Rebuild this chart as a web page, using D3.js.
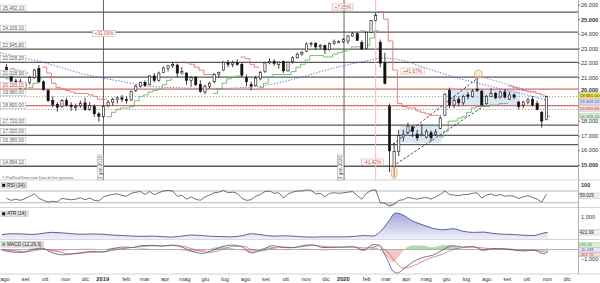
<!DOCTYPE html>
<html><head><meta charset="utf-8">
<script src="https://cdn.jsdelivr.net/npm/d3@7"></script>
<style>
html,body{margin:0;padding:0;background:#fff;overflow:hidden}
svg{display:block;font-family:"Liberation Sans",Arial,sans-serif}
</style></head><body>
<svg id="c" width="600" height="283"></svg>
<script>
// ---------------- DATA ----------------
const firstWeek = "2018-08-06", lastWeekEnd = "2020-11-03";   // weekly bars (Mondays)
const open  = [21700,21100,20750,20700,20300,20650,21000,21600,20700,20100,19400,19150,19000,19400,19100,19000,19050,19250,18800,19000,18500,18300,
 19050,19300,19500,19600,19500,19450,20100,20400,20650,20500,21100,20800,21350,21600,21800,21850,21300,21300,20800,21000,20500,20000,20400,20700,21200,21500,22000,21900,22000,21900,21000,20500,20450,20900,21400,22000,22100,21900,22100,21450,22100,22350,22600,22800,23300,23350,23100,23200,22900,23350,23450,23450,
 23500,23850,24000,23400,23000,24100,24900,23400,22000,19000,14900,15900,16900,17200,17600,17100,17000,16900,17200,17100,17500,18400,20100,19100,19500,19250,19800,19700,20200,20050,19200,19700,19900,19650,20000,19500,19800,19300,19100,19300,19500,19200,18600,18100];
const high  = [21900,21200,20900,20900,20700,21100,21600,21850,20800,20200,19700,19300,19500,19600,19300,19200,19400,19600,19300,19150,18600,19100,
 19450,19600,19700,19800,19700,20100,20500,20700,20800,21150,21300,21400,21750,21850,22050,21950,21700,21350,21100,21100,20800,20500,20700,21300,21400,22100,22200,22150,22250,22000,21200,20700,21100,21450,22050,22300,22250,22100,22150,22100,22450,22700,22800,23400,23450,23400,23300,23250,23400,23600,23550,23700,
 23900,24100,24100,23550,24150,24950,25480,23600,22700,19200,16500,17400,17400,17900,17700,17400,17800,17450,17350,17450,18400,19900,20300,19700,19700,19800,20000,20200,21050,20150,19800,20250,20000,20100,20200,20000,19900,19400,19400,19600,19700,19400,18700,19750];
const low   = [21200,20300,20400,20200,20100,20500,20900,20600,20100,19300,18950,18650,18900,19000,18700,18700,18900,18700,18700,18300,17950,18200,
 18950,19050,19200,19300,19200,19400,20000,20300,20350,20450,20650,20700,21300,21400,21650,21000,21200,20500,20350,20400,19950,19850,20250,20600,21000,21450,21700,21700,21800,21000,20400,20100,20400,20800,21300,21900,21800,21600,21300,21400,21950,22300,22500,22750,23100,22900,22950,22600,22850,23250,23350,23350,
 23300,23800,23500,22900,22950,24050,24850,21700,20500,14500,14150,15600,16600,17100,16900,16650,16950,16800,16600,17000,17450,18350,18900,18900,19000,19100,19500,19600,20000,19100,19150,19650,19500,19550,19550,19450,19500,18800,18900,19150,19000,18750,17550,18050];
const close = [21300,20750,20600,20270,20600,21000,21500,20700,20150,19400,19150,18950,19400,19100,19000,19000,19200,18800,19050,18500,18324,19000,
 19300,19500,19600,19500,19400,20050,20400,20650,20450,21100,20800,21300,21650,21800,21900,21300,21400,20800,21000,20500,20050,20400,20600,21200,21350,22050,21900,22000,21900,21150,20700,20400,20950,21350,22000,22100,21950,22050,21450,22050,22350,22600,22700,23300,23350,23100,23200,22900,23350,23450,23450,23600,
 23850,24000,23550,22950,24100,24900,25250,21985,20600,15950,15900,17000,17050,17650,17300,16850,17100,17300,16850,17250,18200,19850,19100,19400,19250,19700,19700,20050,20100,19100,19700,19900,19600,20000,19650,19800,19650,19000,19300,19450,19100,18800,18000,19681];
// trailing stop (1 = green below price, -1 = red above price)
const stopValue = [20900,21600,21500,21400,21300,20300,20600,20900,21700,21300,20600,20300,20200,20100,20000,19900,19900,19900,19800,19700,19500,19500,
 18300,18600,18800,18900,18900,19000,19400,19700,19800,20000,20100,20200,20500,20800,21000,21000,21000,22000,21900,21700,21500,21200,21200,19900,20200,20600,20900,21000,21100,22400,22300,21900,21700,20300,20600,21000,21200,21200,21200,21200,21400,21700,21900,22200,22500,22500,22500,22400,22400,22600,22700,22800,
 22900,23100,23100,24200,23200,23700,24200,25500,25000,23500,21500,19200,19000,18900,18900,18700,18600,18500,18400,18400,16900,17300,18000,18000,18200,18300,18600,18900,19000,19000,19000,19100,19100,19200,19200,20400,20300,20200,20100,20000,20000,19900,19800,18340];
const stopSide  = [1,-1,-1,-1,-1,1,1,1,-1,-1,-1,-1,-1,-1,-1,-1,-1,-1,-1,-1,-1,-1,
 1,1,1,1,1,1,1,1,1,1,1,1,1,1,1,1,1,-1,-1,-1,-1,-1,-1,1,1,1,1,1,1,-1,-1,-1,-1,1,1,1,1,1,1,1,1,1,1,1,1,1,1,1,1,1,1,1,
 1,1,1,-1,1,1,1,-1,-1,-1,-1,-1,-1,-1,-1,-1,-1,-1,-1,-1,1,1,1,1,1,1,1,1,1,1,1,1,1,1,1,-1,-1,-1,-1,-1,-1,-1,-1,1];
const rsi = [45,38,42,38,44,52,60,45,38,32,35,33,45,42,40,42,47,40,46,38,36,50,
 55,58,60,55,52,62,66,68,58,68,58,64,70,72,70,52,55,42,50,42,38,50,56,64,66,72,64,66,62,45,38,40,52,58,68,70,62,64,46,60,66,70,70,74,72,60,62,50,62,64,62,64,
 66,68,55,42,62,72,74,30,28,18,24,38,40,48,45,42,46,48,42,50,58,70,58,56,54,58,58,62,64,46,56,60,54,58,52,54,52,44,50,54,48,42,32,59];
// long moving average (blue dotted)
const maDates  = ["2018-07-29","2018-09-01","2018-10-01","2018-11-01","2018-12-01","2019-01-01","2019-02-01","2019-03-01","2019-04-01","2019-05-01","2019-06-01","2019-07-01","2019-08-01","2019-09-01","2019-10-01","2019-11-01","2019-12-01","2020-01-01","2020-02-01","2020-03-01","2020-04-01","2020-05-01","2020-06-01","2020-07-01","2020-08-01","2020-09-01","2020-10-01","2020-11-06"];
const maValues = [22700,22350,22050,21650,21250,20950,20700,20450,20330,20280,20250,20250,20300,20420,20700,21050,21450,21800,22100,22330,22150,21700,21250,20850,20500,20150,19850,19409];
// ATR(14)
const atrDates  = ["2018-08-01","2018-08-15","2018-09-01","2018-09-15","2018-10-01","2018-10-15","2018-11-01","2018-11-15","2018-12-01","2018-12-15","2019-01-01","2019-01-15","2019-02-01","2019-02-15","2019-03-01","2019-03-15","2019-04-01","2019-04-15","2019-05-01","2019-05-15","2019-06-01","2019-06-15","2019-07-01","2019-07-15","2019-08-01","2019-08-15","2019-09-01","2019-09-15","2019-10-01","2019-10-15","2019-11-01","2019-11-15","2019-12-01","2019-12-15","2020-01-01","2020-01-15","2020-02-01","2020-02-15","2020-02-28","2020-03-10","2020-03-20","2020-03-31","2020-04-15","2020-05-01","2020-05-15","2020-06-01","2020-06-15","2020-07-01","2020-07-15","2020-08-01","2020-08-15","2020-09-01","2020-09-15","2020-10-01","2020-10-15","2020-10-30","2020-11-06"];
const atrValues = [330,370,360,340,380,420,400,370,350,360,350,320,300,280,270,280,260,240,280,320,300,270,260,250,300,370,320,280,290,280,250,240,250,250,250,260,300,280,500,850,1150,1080,850,700,580,520,560,460,420,430,380,350,340,310,300,390,422];
// MACD(12,26,9)
const macdDates  = ["2018-08-01","2018-08-15","2018-09-01","2018-09-15","2018-10-01","2018-10-15","2018-11-01","2018-11-15","2018-12-01","2018-12-15","2019-01-01","2019-01-15","2019-02-01","2019-02-15","2019-03-01","2019-03-15","2019-04-01","2019-04-15","2019-05-01","2019-05-15","2019-06-01","2019-06-15","2019-07-01","2019-07-15","2019-08-01","2019-08-15","2019-09-01","2019-09-15","2019-10-01","2019-10-15","2019-11-01","2019-11-15","2019-12-01","2019-12-15","2020-01-01","2020-01-15","2020-02-01","2020-02-15","2020-02-24","2020-03-02","2020-03-09","2020-03-16","2020-03-23","2020-04-01","2020-04-15","2020-05-01","2020-05-15","2020-06-01","2020-06-15","2020-07-01","2020-07-15","2020-08-01","2020-08-15","2020-09-01","2020-09-15","2020-10-01","2020-10-15","2020-11-01","2020-11-06"];
const macdLine   = [-50,-250,-300,-50,150,-300,-550,-450,-300,-200,-250,50,250,200,400,420,350,450,250,-150,-400,-150,300,450,250,-350,0,400,200,180,400,480,200,220,250,280,-50,500,450,-300,-1200,-2200,-2400,-2000,-1300,-800,-600,0,400,250,300,-50,100,50,-50,-150,-50,-450,-45];
const macdSignal = [20,-100,-220,-180,0,-50,-350,-450,-380,-280,-250,-120,100,200,280,380,380,400,350,100,-200,-280,0,300,350,0,-150,150,280,200,300,420,330,250,240,260,150,250,400,100,-300,-900,-1500,-1900,-1700,-1200,-800,-450,0,200,250,150,50,80,20,-80,-80,-250,-302];
const macdHist   = [-70,-150,-80,130,150,-250,-200,0,80,80,0,170,150,0,120,40,-30,50,-100,-250,-200,130,300,150,-100,-350,150,250,-80,-20,100,60,-130,-30,10,20,-200,250,50,-400,-900,-1300,-900,-100,400,400,200,450,400,50,50,-200,50,-30,-70,-70,30,-200,257];
// horizontal levels
const levelValues = [25492.10,24109.10,22945.80,22028.20,21018.90,20193.10,19680.00,18800.00,17720.00,17020.00,16380.00,14894.10];
const levelKinds  = ["g","g","g","g","g","r","d","d","g","g","g","g"];
const redLineValue = 19055.85;
const priceTicks = [15000,16000,17000,18000,19000,20000,21000,22000,23000,24000,25000,26000];
const hiddenTickLabels = [19000];   // covered by the value boxes in the reference
const monthNames = ["gen","feb","mar","apr","mag","giu","lug","ago","set","ott","nov","dic"];
const dateLines  = ["2019-01-02","2020-01-02"];
const dateLineLabels = ["2 gen 2019","2 gen 2020"];
const pctLabels = [["+31.03%","2019-01-03",24020],["+7.05%","2019-12-31",25840],["+41.67%","2020-04-15",21440],["-41.42%","2020-02-14",15186]];
const rightPriceLabels = [["19.681,00",19681,"#f4e64a","#333"],["19.409,22",19409.22,"#dcdcf6","#4a4aa8"],["19.055,85",19055.85,"#f6d8d8","#c23a3a"],["18.339,45",18339.45,"#d9f0d2","#3d8f3d"]];

// ---------------- DRAW ----------------
const svg = d3.select("#c");
const PR = 578;
const parse = d3.timeParse("%Y-%m-%d");
const loc = d3.formatLocale({decimal:",",thousands:".",grouping:[3],currency:["",""]});
const f0 = loc.format(",.0f"), f2 = loc.format(",.2f");
const x  = d3.scaleTime().domain([parse("2018-07-29"), parse("2020-12-22")]).range([0, PR]);
const y  = d3.scaleLinear().domain([14500, 26320]).range([172, 0]);
const yR = d3.scaleLinear().domain([0,100]).range([211.5,182.2]);
const yA = d3.scaleLinear().domain([0,1000]).range([243.5,217]);
const yM = d3.scaleLinear().domain([0,-1000]).range([249.5,259.3]);

const defs = svg.append("defs");
function clip(id,x0,y0,w,h){defs.append("clipPath").attr("id",id).append("rect").attr("x",x0).attr("y",y0).attr("width",w).attr("height",h);}
clip("cMain",0,0,PR,180); clip("cRsi",0,180,PR,27.5); clip("cAtr",0,207.5,PR,32); clip("cMacd",0,239.5,PR,34.5);
clip("cPos",0,0,PR,yM(0)); clip("cNeg",0,yM(0),PR,60);
const grad = defs.append("linearGradient").attr("id","gAtr").attr("x1",0).attr("x2",0).attr("y1",0).attr("y2",1);
grad.append("stop").attr("offset","0%").attr("stop-color","#9c9cd8").attr("stop-opacity",0.9);
grad.append("stop").attr("offset","100%").attr("stop-color","#eef0fa").attr("stop-opacity",0.9);

// panel separators and right edge
[180,207.5,239.5,274].forEach(v=>svg.append("line").attr("x1",0).attr("x2",600).attr("y1",v).attr("y2",v).attr("stroke","#c8c8c8").attr("stroke-width",0.8));
svg.append("line").attr("x1",PR+0.5).attr("x2",PR+0.5).attr("y1",0).attr("y2",274).attr("stroke","#9a9a9a").attr("stroke-width",0.8);

const weeks = d3.timeMonday.range(parse(firstWeek), parse(lastWeekEnd));
const bars = weeks.map((w,i)=>({w, d:d3.timeDay.offset(w,2), o:open[i], h:high[i], l:low[i], c:close[i], s:stopValue[i], side:stopSide[i], r:rsi[i]}));

const gMain = svg.append("g").attr("clip-path","url(#cMain)");
// shaded zones
const zones = [["2020-03-27","2020-05-29",16500,17720],["2020-06-10","2020-09-25",19050,20200]];
zones.forEach(z=>gMain.append("rect").attr("x",x(parse(z[0]))).attr("width",x(parse(z[1]))-x(parse(z[0])))
  .attr("y",y(z[3])).attr("height",y(z[2])-y(z[3])).attr("fill","#d3e3f6").attr("opacity",0.85));

// horizontal levels
levelValues.forEach((v,i)=>{
  const k = levelKinds[i];
  gMain.append("line").attr("x1",0).attr("x2",PR).attr("y1",y(v)).attr("y2",y(v))
    .attr("stroke", k==="r" ? "#d86a6a" : (k==="d" ? "#8a8a8a" : "#5a5a5a"))
    .attr("stroke-width", k==="d" ? 0.8 : 1.3)
    .attr("stroke-dasharray", k==="d" ? "1.2,1.8" : null);
});
gMain.append("line").attr("x1",0).attr("x2",PR).attr("y1",y(redLineValue)).attr("y2",y(redLineValue)).attr("stroke","#d86a6a").attr("stroke-width",1.3);

// vertical date lines
dateLines.forEach(d=>gMain.append("line").attr("x1",x(parse(d))).attr("x2",x(parse(d))).attr("y1",0).attr("y2",180).attr("stroke","#555").attr("stroke-width",0.9));
gMain.append("line").attr("x1",x(parse("2020-02-19"))).attr("x2",x(parse("2020-02-19"))).attr("y1",0).attr("y2",180).attr("stroke","#f0baba").attr("stroke-width",1);

// long MA
gMain.append("path").datum(maDates.map((d,i)=>[x(parse(d)),y(maValues[i])]))
  .attr("d",d3.line().curve(d3.curveMonotoneX)).attr("fill","none").attr("stroke","#5a5ac8").attr("stroke-width",0.9).attr("stroke-dasharray","1.3,1.6");

// trend lines
const tlines = [[["2020-03-16",14900],["2020-08-10",19300],"#222","2.5,1.8"],[["2020-03-16",16400],["2020-07-24",21000],"#222","2.5,1.8"],[["2020-07-24",21100],["2020-10-20",19950],"#7a7ac0","1.5,1.5"]];
tlines.forEach(t=>gMain.append("line").attr("x1",x(parse(t[0][0]))).attr("y1",y(t[0][1])).attr("x2",x(parse(t[1][0]))).attr("y2",y(t[1][1]))
  .attr("stroke",t[2]).attr("stroke-width",0.8).attr("stroke-dasharray",t[3]));

// trailing stop step lines
let segs=[], cur=null;
bars.forEach((b,i)=>{
  const x0 = x(b.w), x1 = x(d3.timeDay.offset(b.w,7));
  if(!cur || cur.side!==b.side){ cur={side:b.side, pts:[]}; segs.push(cur); }
  cur.pts.push([x0,y(b.s)],[x1,y(b.s)]);
});
segs.forEach(s=>gMain.append("path").datum(s.pts).attr("d",d3.line()).attr("fill","none")
  .attr("stroke", s.side>0 ? "#55b055" : "#e06262").attr("stroke-width",0.8));

// candles
const cg = gMain.append("g");
bars.forEach(b=>{
  const cx = x(b.d);
  cg.append("line").attr("x1",cx).attr("x2",cx).attr("y1",y(b.h)).attr("y2",y(b.l)).attr("stroke","#111").attr("stroke-width",0.8);
  const top = y(Math.max(b.o,b.c)), bot = y(Math.min(b.o,b.c));
  cg.append("rect").attr("x",cx-1.1).attr("width",2.2).attr("y",top).attr("height",Math.max(0.8,bot-top))
    .attr("fill", b.c>=b.o ? "#fff" : "#111").attr("stroke","#111").attr("stroke-width",0.6);
});

// circles
gMain.append("ellipse").attr("cx",x(parse("2020-03-18"))).attr("cy",y(14460)).attr("rx",3).attr("ry",6)
  .attr("fill","#f8d2a8").attr("fill-opacity",0.45).attr("stroke","#efa05a").attr("stroke-width",0.8);
gMain.append("circle").attr("cx",x(parse("2020-07-24"))).attr("cy",y(21234)).attr("r",4)
  .attr("fill","#f8d2a8").attr("fill-opacity",0.45).attr("stroke","#efa05a").attr("stroke-width",0.8);

// left level labels
levelValues.forEach((v,i)=>{
  const k = levelKinds[i];
  const g = svg.append("g");
  const t = g.append("text").attr("x",2.5).attr("y",y(v)-2.2).attr("font-size",4.8).attr("fill", k==="r" ? "#c23a3a" : "#555").text(f2(v));
  const w = t.node().getComputedTextLength();
  g.insert("rect","text").attr("x",0.5).attr("y",y(v)-7).attr("width",w+4).attr("height",5.8)
    .attr("fill","#fff").attr("stroke", k==="r" ? "#e0a0a0" : "#b0b0b0").attr("stroke-width",0.5);
});

// rotated date labels
dateLines.forEach((d,i)=>{
  const xx = x(parse(d));
  const g = svg.append("g");
  g.append("rect").attr("x",xx-6.3).attr("y",155).attr("width",6).attr("height",25).attr("fill","#fff").attr("stroke","#999").attr("stroke-width",0.5);
  g.append("text").attr("transform",`translate(${xx-1.7},167.5) rotate(-90)`).attr("text-anchor","middle").attr("font-size",4.6).attr("fill","#444").text(dateLineLabels[i]);
});

// percent labels
pctLabels.forEach(p=>{
  const cx = x(parse(p[1])), cy = y(p[2]);
  const g = svg.append("g");
  const t = g.append("text").attr("x",cx).attr("y",cy+1.7).attr("text-anchor","middle").attr("font-size",4.8).attr("fill","#c04848").text(p[0]);
  const w = t.node().getComputedTextLength();
  g.insert("rect","text").attr("x",cx-w/2-2).attr("y",cy-3).attr("width",w+4).attr("height",6).attr("fill","#fff").attr("stroke","#e0a0a0").attr("stroke-width",0.6);
});

svg.append("text").attr("x",2).attr("y",178.5).attr("font-size",4).attr("fill","#666").text("© ProRealTime.com Dati di fine giornata");

// right price axis
const ax = svg.append("g").attr("transform",`translate(${PR},0)`)
  .call(d3.axisRight(y).tickValues(priceTicks).tickSize(2).tickFormat(d=>hiddenTickLabels.includes(d)?"":f0(d)));
ax.select(".domain").remove();
ax.selectAll("line").attr("stroke","#777");
ax.selectAll("text").attr("x",3).attr("font-size",5.6).attr("fill","#333").attr("font-family","Liberation Sans, Arial, sans-serif")
  .attr("font-weight",d=>d%5000===0?"bold":null)
  .attr("dy",d=>d===20000?"-0.05em":"0.32em");

// right value labels (stacked)
function stack(items, gap, minY){
  items.sort((a,b)=>a.y-b.y);
  for(let it=0; it<40; it++){
    for(let i=1;i<items.length;i++){
      const d = items[i].y-items[i-1].y;
      if(d<gap){ const m=(gap-d)/2; items[i].y+=m; items[i-1].y-=m; }
    }
    if(minY!=null && items[0].y<minY) items[0].y=minY;
  }
  return items;
}
function valueBox(items, gap, fs, h, minY){
  stack(items, gap, minY).forEach(it=>{
    svg.append("rect").attr("x",PR+1).attr("y",it.y-h/2).attr("width",21.5).attr("height",h)
      .attr("fill",it.fill).attr("stroke","#aaa").attr("stroke-width",0.4);
    svg.append("text").attr("x",PR+1.8).attr("y",it.y+fs*0.36).attr("font-size",fs).attr("fill",it.col).text(it.t);
  });
}
valueBox(rightPriceLabels.map(r=>({t:r[0], y:y(r[1]), fill:r[2], col:r[3]})), 6.5, 4.4, 5.6, y(20000)+3.4);

// ---------------- RSI ----------------
const gR = svg.append("g").attr("clip-path","url(#cRsi)");
const rpts = bars.map(b=>[x(b.d), yR(b.r)]);
gR.append("path").datum(rpts).attr("d",d3.area().y0(yR(30)).y1(d=>Math.max(d[1],yR(30)))).attr("fill","#c9dcf3");
[70,30].forEach(v=>gR.append("line").attr("x1",0).attr("x2",PR).attr("y1",yR(v)).attr("y2",yR(v)).attr("stroke","#9a9a9a").attr("stroke-width",0.7));
gR.append("path").datum(rpts).attr("d",d3.line()).attr("fill","none").attr("stroke","#333").attr("stroke-width",0.7);
svg.append("text").attr("x",PR+3).attr("y",187).attr("font-size",5.6).attr("font-weight","bold").attr("fill","#333").text("100");
valueBox([{t:"59.029", y:yR(59.029)+1.5, fill:"#eee", col:"#333"}], 6, 4.6, 5.4);

// ---------------- ATR ----------------
const gA = svg.append("g").attr("clip-path","url(#cAtr)");
const apts = atrDates.map((d,i)=>[x(parse(d)), yA(atrValues[i])]);
gA.append("path").datum(apts).attr("d",d3.area().curve(d3.curveMonotoneX).y0(239.5).y1(d=>d[1])).attr("fill","url(#gAtr)");
gA.append("path").datum(apts).attr("d",d3.line().curve(d3.curveMonotoneX)).attr("fill","none").attr("stroke","#3c3c80").attr("stroke-width",0.8);
svg.append("text").attr("x",PR+3).attr("y",219).attr("font-size",5.6).attr("fill","#333").text(f0(1000));
valueBox([{t:"421.99", y:yA(421.99), fill:"#eee", col:"#333"}], 6, 4.6, 5.4);

// ---------------- MACD ----------------
const gM = svg.append("g").attr("clip-path","url(#cMacd)");
const hpts = macdDates.map((d,i)=>[x(parse(d)), yM(macdHist[i])]);
const harea = d3.area().curve(d3.curveMonotoneX).y0(yM(0)).y1(d=>d[1]);
gM.append("g").attr("clip-path","url(#cPos)").append("path").datum(hpts).attr("d",harea).attr("fill","#9ad19a").attr("opacity",0.8);
gM.append("g").attr("clip-path","url(#cNeg)").append("path").datum(hpts).attr("d",harea).attr("fill","#f0b8b8").attr("opacity",0.8);
gM.append("line").attr("x1",0).attr("x2",PR).attr("y1",yM(0)).attr("y2",yM(0)).attr("stroke","#888").attr("stroke-width",0.6);
gM.append("path").datum(macdDates.map((d,i)=>[x(parse(d)), yM(macdSignal[i])])).attr("d",d3.line().curve(d3.curveMonotoneX)).attr("fill","none").attr("stroke","#d05a5a").attr("stroke-width",0.7);
gM.append("path").datum(macdDates.map((d,i)=>[x(parse(d)), yM(macdLine[i])])).attr("d",d3.line().curve(d3.curveMonotoneX)).attr("fill","none").attr("stroke","#50508a").attr("stroke-width",0.8);
svg.append("text").attr("x",PR+3).attr("y",261.3).attr("font-size",5.6).attr("fill","#333").text(f0(-1000));
valueBox([{t:"256.26",y:yM(256.26),fill:"#d9f0d2",col:"#3d8f3d"},{t:"-45.438",y:yM(-45.438),fill:"#e8e8f6",col:"#4a4aa8"},{t:"-301.70",y:yM(-301.7),fill:"#f6d8d8",col:"#c23a3a"}], 4.8, 4, 4.6);

// panel titles
const titles = [["RSI (14)",182.5,"#111"],["ATR (14)",211,"#111"],["MACD (12,26,9)",241.5,"#5fae5f"]];
titles.forEach(t=>{
  const g = svg.append("g");
  const tx = g.append("text").attr("x",7).attr("y",t[1]+4).attr("font-size",4.8).attr("fill","#222").text(t[0]);
  const w = tx.node().getComputedTextLength();
  g.insert("rect","text").attr("x",1).attr("y",t[1]).attr("width",w+8).attr("height",5.6).attr("fill","#e4e4e4").attr("stroke","#aaa").attr("stroke-width",0.4);
  g.append("rect").attr("x",2.2).attr("y",t[1]+1.3).attr("width",3).attr("height",3).attr("fill",t[2]);
});

// x axis labels
const months = d3.timeMonth.range(parse("2018-08-01"), parse("2021-01-01"));
months.forEach(m=>{
  const isYear = m.getMonth()===0;
  svg.append("text").attr("x",x(m)+(isYear?0:3)).attr("y",281).attr("text-anchor","middle")
    .attr("font-size",5.8).attr("font-weight",isYear?"bold":null).attr("fill","#333")
    .text(isYear ? m.getFullYear() : monthNames[m.getMonth()]);
});
</script>
</body></html>
